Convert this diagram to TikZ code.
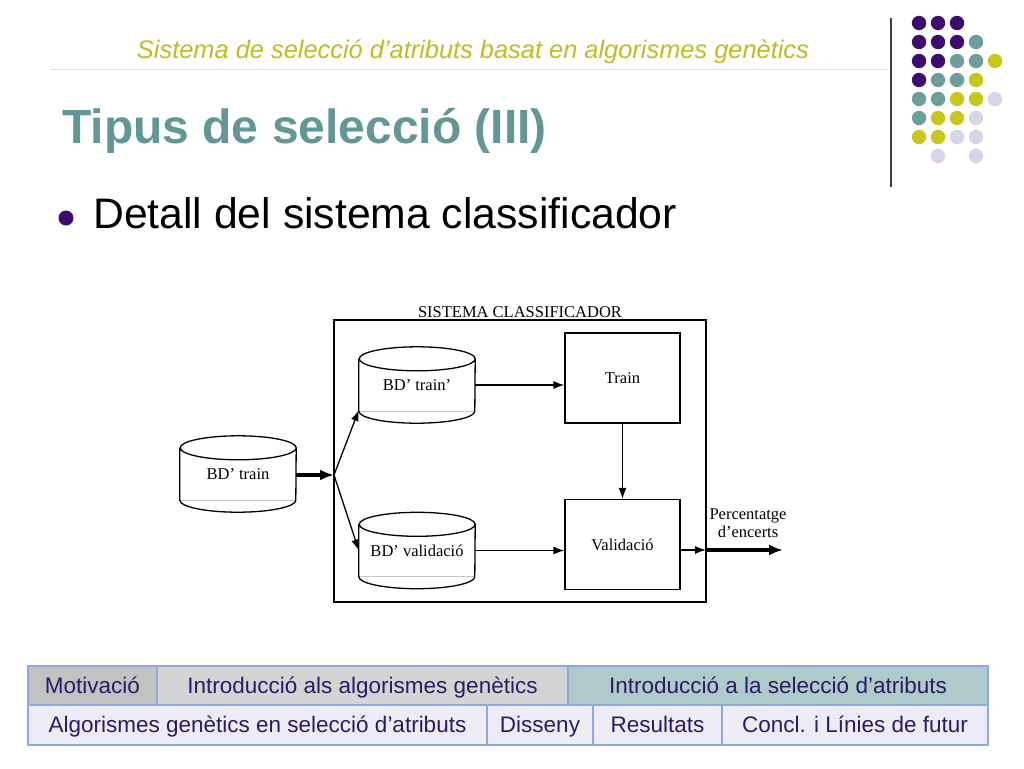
\documentclass[tikz,border=0pt]{standalone}
\usepackage{fontspec}
\setmainfont{Liberation Sans}
\newfontfamily\diagfont{Liberation Serif}
\usetikzlibrary{shapes,arrows.meta}
\definecolor{dp}{HTML}{3D0C6C}
\definecolor{dt}{HTML}{6C9E9C}
\definecolor{dy}{HTML}{C6C61C}
\definecolor{dl}{HTML}{D5D5E9}
\definecolor{titlecol}{HTML}{639796}
\definecolor{subcol}{HTML}{BEBE1E}
\definecolor{navline}{HTML}{8EA9DB}
\definecolor{navtext}{HTML}{2B1B63}

\begin{document}
\begin{tikzpicture}[x=1pt,y=-1pt]
\tikzstyle{db}=[rectangle,inner sep=0pt,minimum width=116pt,minimum height=76pt,font=\diagfont\fontsize{16.5}{18}\selectfont];
\tikzstyle{blk}=[draw,line width=1.3pt,rectangle,minimum width=115pt,minimum height=90pt,font=\diagfont\fontsize{16.5}{18}\selectfont];
\tikzstyle{dir}=[line width=1.3pt,-{Latex[length=11pt,width=8pt]}];
\tikzstyle{fat}=[line width=4pt,-{Latex[length=14pt,width=11pt]}];
\tikzstyle{nav}=[draw=navline,line width=1.2pt,rectangle,inner sep=0pt,outer sep=0pt,text height=18pt,text depth=3pt,text=navtext,font=\fontsize{22.5}{26}\selectfont];
\useasboundingbox[fill=white] (0,0) rectangle (1024,768);
% header
\node [text=subcol,font=\fontsize{25.4}{29}\selectfont\itshape] (sub) at (473,52) {Sistema de selecció d’atributs basat en algorismes genètics};
\draw [color=black!12,line width=1pt] (50,69) -- (889,69);
\draw [color=black!75,line width=1.3pt] (891,18) -- (891,187);
\foreach \row [count=\r from 0] in {{dp,dp,dp},{dp,dp,dp,dt},{dp,dp,dt,dt,dy},{dp,dt,dt,dy},{dt,dt,dy,dy,dl},{dt,dy,dy,dl},{dy,dy,dl,dl},{white,dl,white,dl}}
  \foreach \k [count=\c from 0] in \row
    \fill [\k] (919+19*\c,23+19*\r) circle (7.2);
\node [anchor=base west,text=titlecol,font=\fontsize{48}{56}\selectfont\bfseries,inner sep=0pt] (title) at (62,143) {Tipus de selecció (III)};
\fill [dp] (66,218) circle (7.5);
\node [anchor=base west,font=\fontsize{42.7}{48}\selectfont,inner sep=0pt] (item) at (93,228) {Detall del sistema classificador};
% diagram
\node [draw,line width=1.3pt,rectangle,minimum width=372pt,minimum height=282pt] (sys) at (520,461) {};
\node [font=\diagfont\fontsize{16.5}{18}\selectfont,anchor=south,inner sep=1pt] (syslbl) at (sys.north) {SISTEMA CLASSIFICADOR};
\node [db] (dbin) at (238,474) {BD’ train};
\node [db] (dbtr) at (417,385) {BD’ train’};
\node [db] (dbval) at (417,550.5) {BD’ validació};
\foreach \n in {dbin,dbtr,dbval} {
  \draw [black!22,line width=0.8pt] ([yshift=12pt]\n.south west) -- ([yshift=12pt]\n.south east);
  \draw [line width=1.3pt] ([yshift=-12pt]\n.north west) -- ([yshift=12pt]\n.south west)
    arc [start angle=180,end angle=360,x radius=58pt,y radius=12pt]
    -- ([yshift=-12pt]\n.north east)
    arc [start angle=0,end angle=360,x radius=58pt,y radius=12pt];
}
\node [blk] (train) at (622.5,378) {Train};
\node [blk] (valid) at (622.5,544.5) {Validació};
\coordinate (split) at (334,475);
\coordinate (port) at (706,550);
\coordinate (out) at (783,550);
\draw [fat] (dbin.east |- split) -- (split);
\draw [dir] (split) -- ([yshift=-25pt]dbtr.west);
\draw [dir] (split) -- (dbval.west);
\draw [dir] (dbtr.east) -- (dbtr.east -| train.west);
\draw [dir] (dbval.east) -- (dbval.east -| valid.west);
\draw [dir] (train.south) -- (valid.north);
\draw [dir] (valid.east |- port) -- (port);
\draw [fat] (port) -- (out);
\node [font=\diagfont\fontsize{16.5}{18}\selectfont,align=center] (pct) at (748,523) {Percentatge\\d’encerts};
% navigation bar
\node [nav,fill=black!24,minimum width=129pt,minimum height=39pt] (tmot) at (92.5,685.5) {Motivació};
\node [nav,fill=black!17,minimum width=411pt,minimum height=39pt] (tgen) at (362.5,685.5) {Introducció als algorismes genètics};
\node [nav,fill=dt!55,minimum width=420pt,minimum height=39pt] (tsel) at (778,685.5) {Introducció a la selecció d’atributs};
\node [nav,fill=dl!45,minimum width=459pt,minimum height=40pt] (tags) at (257.5,725) {Algorismes genètics en selecció d’atributs};
\node [nav,fill=dl!45,minimum width=106pt,minimum height=40pt] (tdis) at (540,725) {Disseny};
\node [nav,fill=dl!45,minimum width=129pt,minimum height=40pt] (tres) at (657.5,725) {Resultats};
\node [nav,fill=dl!45,minimum width=266pt,minimum height=40pt] (tcon) at (855,725) {Concl. i Línies de futur};
\end{tikzpicture}
\end{document}
